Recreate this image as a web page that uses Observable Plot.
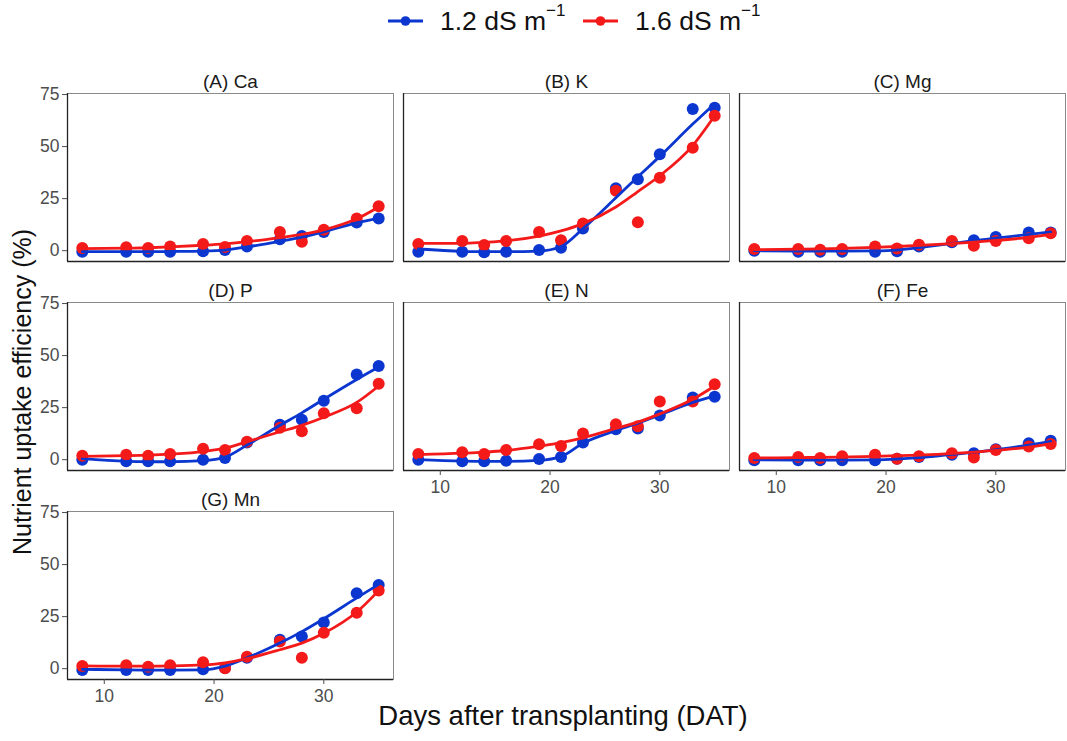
<!DOCTYPE html>
<html><head><meta charset="utf-8">
<script src="https://cdn.jsdelivr.net/npm/d3@7"></script>
<script src="https://cdn.jsdelivr.net/npm/@observablehq/plot@0.6"></script>
<style>
body{margin:0;background:#fff;font-family:"Liberation Sans",Arial,sans-serif;}
#wrap{position:relative;width:1067px;height:741px;}
#legend{position:absolute;left:0;top:0;width:1067px;height:60px;}
.item{position:absolute;top:5px;display:flex;align-items:center;font-size:26.5px;color:#111;}
.item svg{margin-right:17px;}
sup{font-size:17px;position:relative;top:-4px;line-height:0;}
#chart{position:absolute;left:0;top:60px;}
</style></head><body>
<div id="wrap"><div id="legend"></div><div id="chart"></div></div>
<script>
const days = [8,12,14,16,19,21,23,26,28,30,33,35];
const panels = ["(A) Ca","(B) K","(C) Mg","(D) P","(E) N","(F) Fe","(G) Mn"];
const treatments = ["1.2 dS m-1","1.6 dS m-1"];
const colors = ["#0b36cf","#f41a1a"];

// observed points
const ca12 = [-0.5,-0.5,-0.5,-0.5,-0.3,0.3,2,5.5,7,9,13.5,15.5];
const ca16 = [1.3,1.6,1.3,2,3.2,1.8,4.6,9,4.3,10,15.5,21.3];
const k12  = [-0.5,-0.5,-0.8,-0.5,0.3,1.4,10.6,30,34.3,46.3,68,68.7];
const k16  = [3.2,4.6,2.7,4.6,9,5,13,28.8,13.7,35,49.4,64.8];
const mg12 = [0,-0.5,-0.5,-0.5,-0.5,-0.3,2,4,5,6.6,8.7,8.7];
const mg16 = [0.8,0.8,0.5,0.8,2,1,2.8,4.6,2.4,4.7,6,8.4];
const p12  = [0,-0.8,-0.8,-0.8,0,0.8,8.2,16.8,19.2,28.3,40.9,45];
const p16  = [1.9,2.4,1.9,2.7,5.2,4.7,8.6,15.3,13.7,22.3,24.7,36.5];
const n12  = [0,-0.8,-0.8,-0.5,0.3,1.3,8.3,14.6,15,21.2,29.9,30.2];
const n16  = [2.7,3.6,2.7,4.7,7.4,6.6,12.6,17,16,28,28,36.2];
const fe12 = [-0.3,-0.3,-0.3,-0.3,-0.3,0.5,1.3,2.4,3.1,5,7.9,9.1];
const fe16 = [0.8,1.3,0.8,1.6,2.4,0.5,1.6,3.1,1.1,4.7,6.3,7.5];
const mn12 = [-0.6,-0.6,-0.6,-0.6,-0.3,0.3,5.2,13.9,15.4,22.2,36.2,40.2];
const mn16 = [1.3,1.7,0.9,1.7,3.1,0.2,5.7,13.1,5.2,17.3,26.9,37.5];

// fitted curves
const ca12fit = [-0.5,-0.5,-0.5,-0.4,-0.2,0.3,1.8,4.5,6.5,9,13.4,15.5];
const ca16fit = [1,1.2,1.4,1.8,2.6,3.3,4.3,6.3,7.8,10,15.3,21];
const k12fit  = [0.8,-0.3,-0.5,-0.5,-0.2,2,10.6,25.4,35.5,45.3,60.8,70.6];
const k16fit  = [3.5,3.5,4,4.7,7,9.5,13,21,28.4,36,50.5,64.8];
const mg12fit = [0,-0.2,-0.2,-0.2,-0.1,0.3,1.5,3.5,4.8,6,7.8,9];
const mg16fit = [0.5,0.7,0.9,1.1,1.6,2,2.5,3.4,4.1,4.9,6.4,7.8];
const p12fit  = [0.5,-0.8,-1,-1,-0.5,1.2,7,16.5,22.5,29,38.5,44.5];
const p16fit  = [1.6,1.9,2.2,2.7,3.9,5.5,8.6,13.4,16.5,20.4,27.5,35.4];
const n12fit  = [0,-0.7,-0.8,-0.8,-0.3,1.5,7.9,14,17.5,21.5,27.5,30.5];
const n16fit  = [2.4,3.1,3.6,4.4,6.5,8.2,10.5,15,18,22,29,35.4];
const fe12fit = [0,-0.2,-0.2,-0.2,-0.1,0.3,1,2.5,3.5,4.8,7,8.8];
const fe16fit = [0.8,1,1.1,1.3,1.6,1.9,2.2,3,3.6,4.5,6,7.7];
const mn12fit = [-0.3,-0.6,-0.7,-0.7,-0.6,1.2,5.2,12.3,17.8,24,34,40.5];
const mn16fit = [1.3,1.2,1.2,1.3,1.8,2.8,4.8,9.1,12.3,17,27.2,37.5];

const obsSets = [[ca12,ca16],[k12,k16],[mg12,mg16],[p12,p16],[n12,n16],[fe12,fe16],[mn12,mn16]];
const fitSets = [[ca12fit,ca16fit],[k12fit,k16fit],[mg12fit,mg16fit],[p12fit,p16fit],[n12fit,n16fit],[fe12fit,fe16fit],[mn12fit,mn16fit]];

function build(sets){
  const rows = [];
  sets.forEach((pair,i)=>pair.forEach((vals,t)=>vals.forEach((v,j)=>rows.push({
    panel: panels[i], col: i%3, row: Math.floor(i/3), trt: treatments[t], day: days[j], value: v
  }))));
  return rows;
}
const obs = build(obsSets);
const fit = build(fitSets);
const titles = panels.map((p,i)=>({panel:p, col:i%3, row:Math.floor(i/3)}));

// legend
const legend = document.getElementById("legend");
const lx = [388, 583];
treatments.forEach((t,i)=>{
  const d = document.createElement("div");
  d.className = "item";
  d.style.left = lx[i] + "px";
  d.innerHTML = `<svg width="35" height="32"><line x1="0" x2="35" y1="16" y2="16" stroke="${colors[i]}" stroke-width="3"/><circle cx="17.5" cy="16" r="4.8" fill="${colors[i]}"/></svg><span>${t.replace(" m-1"," m")}<sup>&minus;1</sup></span>`;
  legend.appendChild(d);
});

const xDom = [6.65, 36.35], yDom = [-5.2, 75.5];
const chart = Plot.plot({
  width: 1067, height: 681,
  marginLeft: 66, marginRight: 1, marginTop: 33, marginBottom: 61,
  style: {fontFamily: '"Liberation Sans", Arial, sans-serif', background: "#fff"},
  x: {domain: xDom, label: null},
  y: {domain: yDom, label: null},
  fx: {domain: [0,1,2], paddingInner: 0.03, paddingOuter: 0, axis: null, label: null},
  fy: {domain: [0,1,2], paddingInner: 0.195, paddingOuter: 0, axis: null, label: null},
  color: {domain: treatments, range: colors},
  marks: [
    Plot.frame({stroke: "#8a8a8a", strokeWidth: 1}),
    Plot.ruleX([xDom[0]], {stroke: "#222", strokeWidth: 1.3}),
    Plot.ruleY([yDom[0]], {stroke: "#222", strokeWidth: 1.3}),
    Plot.dot(obs, {x: "day", y: "value", fx: "col", fy: "row", fill: "trt", r: 6, stroke: "none"}),
    Plot.line(fit, {x: "day", y: "value", fx: "col", fy: "row", z: "trt", stroke: "trt", strokeWidth: 2.8, curve: "monotone-x"}),
    Plot.text(titles, {fx: "col", fy: "row", text: "panel", frameAnchor: "top", lineAnchor: "bottom", dy: -6, fontSize: 19, fill: "#1a1a1a"}),
    Plot.axisX({ticks: [10,20,30], tickSize: 5, tickPadding: 5, fontSize: 17.5, color: "#4d4d4d", label: null}),
    Plot.axisY({ticks: [0,25,50,75], tickSize: 5, tickPadding: 3, fontSize: 17.5, color: "#4d4d4d", label: null})
  ]
});
document.getElementById("chart").appendChild(chart);

const svg = d3.select(chart);
svg.append("text")
  .attr("transform", "translate(31,332) rotate(-90)")
  .attr("text-anchor", "middle")
  .attr("font-size", 25)
  .attr("fill", "#111")
  .text("Nutrient uptake efficiency (%)");
svg.append("text")
  .attr("x", 563).attr("y", 665)
  .attr("text-anchor", "middle")
  .attr("font-size", 27.5)
  .attr("fill", "#111")
  .text("Days after transplanting (DAT)");
</script>
</body></html>
